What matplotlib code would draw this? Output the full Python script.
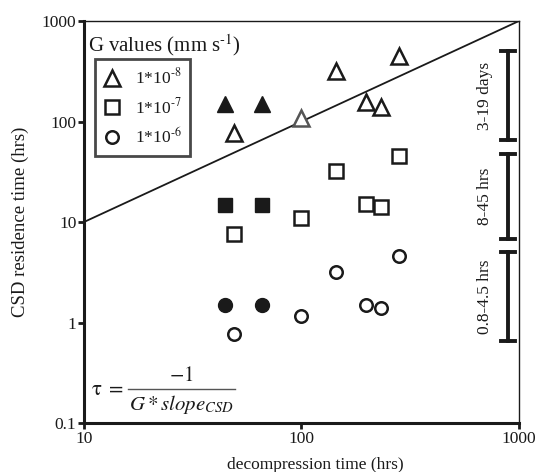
import math
import matplotlib
matplotlib.use("Agg")
import matplotlib.pyplot as plt
from matplotlib.lines import Line2D

plt.rcParams['font.family'] = ['Liberation Serif', 'DejaVu Serif']
plt.rcParams['mathtext.fontset'] = 'stix'

# Decompression times (hrs)
x_filled = [44.5, 65.8]
x_open = [49, 100, 144, 198, 232, 281]

# CSD residence times (hrs) for each growth rate G
tri_filled = [151, 151]
tri_open = [77, 108, 316, 155, 141, 447]
sq_filled = [14.8, 14.8]
sq_open = [7.6, 11.0, 32, 15.0, 14.0, 45]
circ_filled = [1.48, 1.48]
circ_open = [0.76, 1.15, 3.2, 1.5, 1.4, 4.6]

g_labels = [r'1*10$^{\text{-8}}$', r'1*10$^{\text{-7}}$', r'1*10$^{\text{-6}}$']
range_labels = ['3-19 days', '8-45 hrs', '0.8-4.5 hrs']
range_lo = [66, 6.8, 0.66]
range_hi = [500, 48, 5.0]

fig = plt.figure(figsize=(5.37, 4.72), dpi=100)
ax = fig.add_axes([0.1564, 0.1038, 0.81, 0.8517])
ax.set_xscale('log')
ax.set_yscale('log')
ax.set_xlim(10, 1000)
ax.set_ylim(0.1, 1000)

# 1:1 line
ax.plot([10, 1000], [10, 1000], color='#1a1a1a', lw=1.3, zorder=1)

ec = '#1a1a1a'
mew = 1.8
ax.plot(x_filled, tri_filled, '^', ms=11.5, color=ec, mec=ec, ls='none', zorder=3)
ax.plot(x_filled, sq_filled, 's', ms=10.5, color=ec, mec=ec, ls='none', zorder=3)
ax.plot(x_filled, circ_filled, 'o', ms=10, color=ec, mec=ec, ls='none', zorder=3)
tri_ec = [ec, '#555555', ec, ec, ec, ec]
for xv, yv, c in zip(x_open, tri_open, tri_ec):
    ax.plot([xv], [yv], '^', ms=11.5, mfc='white', mec=c, mew=mew, ls='none', zorder=3)
ax.plot(x_open, sq_open, 's', ms=10, mfc='white', mec=ec, mew=mew, ls='none', zorder=3)
ax.plot(x_open, circ_open, 'o', ms=9, mfc='white', mec=ec, mew=mew, ls='none', zorder=3)

# spines and ticks
for s in ['left', 'bottom']:
    ax.spines[s].set_linewidth(2.2)
    ax.spines[s].set_color('#1a1a1a')
for s in ['top', 'right']:
    ax.spines[s].set_linewidth(1.0)
    ax.spines[s].set_color('#1a1a1a')
ax.set_xticks([10, 100, 1000])
ax.set_xticklabels(['10', '100', '1000'])
ax.set_yticks([0.1, 1, 10, 100, 1000])
ax.set_yticklabels(['0.1', '1', '10', '100', '1000'])
ax.minorticks_off()
ax.tick_params(which='major', direction='out', length=4, width=2, labelsize=12.5,
               colors='#1a1a1a', pad=1.5)
ax.set_xlabel('decompression time (hrs)', fontsize=12.5, color='#1a1a1a', labelpad=8)
ax.xaxis.set_label_coords(0.531, -0.085)
ax.set_ylabel('CSD residence time (hrs)', fontsize=13.5, color='#1a1a1a', labelpad=8)
ax.yaxis.set_label_coords(-0.126, 0.5)

# legend
handles = [Line2D([], [], marker='^', ms=11.5, mfc='white', mec=ec, mew=mew, ls='none'),
           Line2D([], [], marker='s', ms=10, mfc='white', mec=ec, mew=mew, ls='none'),
           Line2D([], [], marker='o', ms=9, mfc='white', mec=ec, mew=mew, ls='none')]
leg = ax.legend(handles, g_labels, loc='upper left', bbox_to_anchor=(0.025, 0.905),
                frameon=True, fancybox=False, fontsize=12.5, handlelength=1.0,
                handletextpad=0.8, borderpad=0.5, labelspacing=0.55,
                borderaxespad=0)
leg.get_frame().set_edgecolor('#1a1a1a')
leg.get_frame().set_linewidth(2.0)
for t in leg.get_texts():
    t.set_color('#1a1a1a')

ax.text(0.01, 0.972, 'G values (mm s$^{\\text{-1}}$)', transform=ax.transAxes, fontsize=15,
        va='top', ha='left', color='#1a1a1a')

# formula drawn as separate parts
ax.text(0.016, 0.082, r'$\mathrm{\tau}\;=$', transform=ax.transAxes, fontsize=15,
        va='center', ha='left', color='#1a1a1a')
ax.plot([0.101, 0.347], [0.085, 0.085], transform=ax.transAxes, color='#555555', lw=1.0)
ax.text(0.224, 0.115, r'$-1$', transform=ax.transAxes, fontsize=15,
        va='center', ha='center', color='#1a1a1a')
ax.text(0.224, 0.047, r'$G * slope_{CSD}$', transform=ax.transAxes, fontsize=15,
        va='center', ha='center', color='#1a1a1a')

# range brackets on right
bx = 0.975
trans = ax.get_yaxis_transform()
for lo, hi, lab in zip(range_lo, range_hi, range_labels):
    ax.plot([bx, bx], [lo, hi], color='#1a1a1a', lw=2.8, transform=trans, clip_on=False)
    for yv in (lo, hi):
        ax.plot([bx - 0.016, bx + 0.016], [yv, yv], color='#1a1a1a', lw=2.8,
                transform=trans, clip_on=False)
    ym = 10 ** ((math.log10(lo) + math.log10(hi)) / 2)
    ax.text(bx - 0.053, ym, lab, rotation=90, transform=trans, fontsize=12.5,
            va='center', ha='center', color='#1a1a1a')

fig.savefig('out.png', dpi=100)
